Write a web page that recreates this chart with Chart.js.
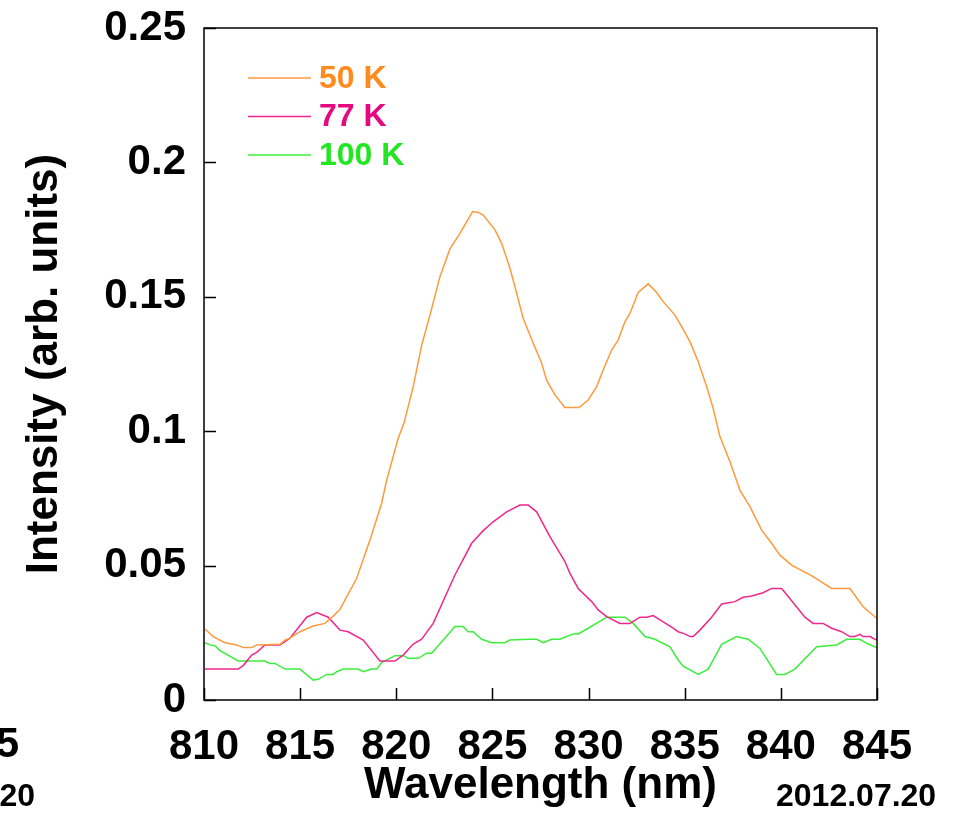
<!DOCTYPE html>
<html>
<head>
<meta charset="utf-8">
<title>PL spectra</title>
<script src="https://cdn.jsdelivr.net/npm/chart.js@4.4.1/dist/chart.umd.min.js"></script>
<style>
  html, body { margin: 0; padding: 0; background: #fff; }
  #wrap { position: relative; width: 962px; height: 814px; }
</style>
</head>
<body>
<div id="wrap"><canvas id="spectrumChart"></canvas></div>
<script>
// series: wavelength (nm) and intensity (arb. units)
const wl50 = [810.05, 810.48, 811.09, 811.70, 812.04, 812.48, 812.74, 813.95, 814.21, 814.47,
  814.99, 815.68, 816.29, 816.72, 817.07, 817.94, 818.63, 819.24, 819.50, 820.10,
  820.40, 820.88, 821.32, 821.75, 822.27, 822.79, 823.31, 823.97, 824.26, 824.52,
  825.13, 825.48, 825.91, 826.17, 826.60, 827.12, 827.56, 827.82, 828.25, 828.77,
  829.50, 829.98, 830.42, 830.76, 831.20, 831.54, 831.89, 832.15, 832.58, 833.10,
  833.54, 833.88, 834.49, 834.84, 835.27, 835.70, 836.14, 836.48, 836.83, 837.35,
  837.87, 838.39, 839.00, 839.52, 839.95, 840.56, 841.68, 842.64, 843.59, 844.28,
  844.98];
const int50 = [0.0264, 0.0236, 0.0213, 0.0205, 0.0195, 0.0195, 0.0205, 0.0207, 0.0223, 0.023,
  0.0254, 0.0275, 0.0285, 0.0312, 0.0337, 0.0453, 0.0595, 0.0732, 0.0818, 0.0974,
  0.103, 0.1166, 0.132, 0.1432, 0.1575, 0.1678, 0.1736, 0.1817, 0.1814, 0.1804,
  0.1749, 0.1699, 0.1606, 0.1538, 0.142, 0.1327, 0.1253, 0.119, 0.1135, 0.1088,
  0.1088, 0.1116, 0.1166, 0.1228, 0.1302, 0.1339, 0.1407, 0.1438, 0.1516, 0.1548,
  0.1516, 0.1482, 0.1432, 0.1389, 0.1333, 0.1259, 0.1166, 0.1085, 0.098, 0.0887,
  0.0781, 0.0719, 0.0632, 0.0583, 0.0539, 0.0502, 0.0459, 0.0415, 0.0415, 0.0347,
  0.0304];

const wl77 = [810.05, 811.78, 812.04, 812.48, 812.74, 813.17, 813.95, 814.47, 815.34, 815.86,
  816.46, 817.07, 817.50, 818.28, 819.15, 819.93, 820.36, 820.88, 821.32, 821.92,
  823.05, 823.92, 824.52, 825.04, 825.74, 826.43, 826.86, 827.30, 827.99, 828.77,
  829.03, 829.46, 830.16, 830.50, 830.94, 831.63, 832.15, 832.67, 833.02, 833.36,
  833.88, 834.40, 834.66, 835.01, 835.27, 835.44, 835.79, 836.40, 836.92, 837.61,
  838.04, 838.48, 839.08, 839.52, 840.04, 840.56, 841.25, 841.68, 842.20, 842.64,
  843.16, 843.59, 843.85, 844.11, 844.28, 844.63, 844.98];
const int77 = [0.0115, 0.0115, 0.0128, 0.0167, 0.0177, 0.0205, 0.0205, 0.023, 0.0308, 0.0325,
  0.0308, 0.026, 0.0254, 0.0223, 0.0145, 0.0145, 0.0167, 0.0208, 0.0226, 0.0285,
  0.0465, 0.0583, 0.063, 0.0663, 0.07, 0.0725, 0.0725, 0.07, 0.0608, 0.0515,
  0.0471, 0.0415, 0.0366, 0.0335, 0.031, 0.0285, 0.0285, 0.0308, 0.0308, 0.0314,
  0.0291, 0.0267, 0.0254, 0.0246, 0.0236, 0.0236, 0.026, 0.0308, 0.0357, 0.0366,
  0.0382, 0.0387, 0.0399, 0.0415, 0.0415, 0.0369, 0.0308, 0.0285, 0.0285, 0.0267,
  0.0254, 0.0236, 0.0236, 0.0244, 0.0236, 0.0236, 0.0223];

const wl100 = [810.05, 810.31, 810.57, 810.83, 811.78, 813.17, 813.43, 813.69, 814.21, 814.99,
  815.68, 815.94, 816.38, 816.72, 816.90, 817.24, 818.02, 818.28, 818.72, 818.98,
  819.24, 819.93, 820.36, 820.62, 821.14, 821.58, 821.84, 823.05, 823.48, 823.74,
  824.00, 824.44, 824.96, 825.65, 825.91, 826.95, 827.30, 827.64, 828.08, 828.51,
  828.86, 829.20, 829.46, 829.98, 830.94, 831.89, 832.32, 832.93, 833.45, 834.23,
  834.66, 834.92, 835.70, 836.22, 836.92, 837.70, 838.30, 838.91, 839.78, 840.21,
  840.73, 841.86, 842.90, 843.42, 844.11, 844.46, 844.98];
const int100 = [0.0213, 0.0205, 0.0202, 0.0184, 0.0145, 0.0145, 0.0136, 0.0136, 0.0115, 0.0115,
  0.0074, 0.0077, 0.0095, 0.0095, 0.0105, 0.0115, 0.0115, 0.0105, 0.0115, 0.0115,
  0.0139, 0.0165, 0.0165, 0.0155, 0.0155, 0.0174, 0.0174, 0.0273, 0.0273, 0.0254,
  0.0254, 0.0226, 0.0213, 0.0213, 0.0223, 0.0226, 0.0226, 0.0213, 0.0226, 0.0226,
  0.0236, 0.0246, 0.0246, 0.0267, 0.0308, 0.0308, 0.0285, 0.0236, 0.0226, 0.0198,
  0.0149, 0.0126, 0.0095, 0.0115, 0.0207, 0.0236, 0.0226, 0.0192, 0.0095, 0.0095,
  0.0115, 0.0198, 0.0205, 0.0226, 0.0226, 0.0211, 0.0195];

const seriesLabels = ["50 K", "77 K", "100 K"];
const xTickLabels = ["810", "815", "820", "825", "830", "835", "840", "845"];
const yTickLabels = ["0", "0.05", "0.1", "0.15", "0.2", "0.25"];

const FONT = "'Liberation Sans', Arial, Helvetica, sans-serif";
Chart.defaults.font.family = FONT;
Chart.defaults.color = "#000";

function pairs(xs, ys) {
  return xs.map((x, i) => ({ x: x, y: ys[i] }));
}

const lineColors = ["#ff9a3c", "#f0288c", "#3cee3c"];
const textColors = ["#ff8a1e", "#e6087e", "#22e622"];

// box, inward ticks, legend and the stray labels at the picture's edges
const frame = {
  id: "frame",
  afterDraw(chart) {
    const { ctx, chartArea: a, scales } = chart;
    ctx.save();
    ctx.strokeStyle = "#000";
    ctx.lineWidth = 1.5;
    ctx.strokeRect(a.left, a.top, a.right - a.left, a.bottom - a.top);

    ctx.beginPath();
    scales.x.ticks.forEach((t) => {
      const px = Math.round(scales.x.getPixelForValue(t.value)) + 0.5;
      ctx.moveTo(px, a.bottom);
      ctx.lineTo(px, a.bottom - 12);
    });
    scales.y.ticks.forEach((t) => {
      const py = Math.round(scales.y.getPixelForValue(t.value)) + 0.5;
      ctx.moveTo(a.left, py);
      ctx.lineTo(a.left + 12, py);
    });
    ctx.stroke();

    // legend
    ctx.font = "bold 32px " + FONT;
    ctx.textBaseline = "middle";
    ctx.textAlign = "left";
    chart.data.datasets.forEach((ds, i) => {
      const y = a.top + 50 + i * 38.5;
      ctx.strokeStyle = ds.borderColor;
      ctx.lineWidth = 1.5;
      ctx.beginPath();
      ctx.moveTo(a.left + 44, y);
      ctx.lineTo(a.left + 107, y);
      ctx.stroke();
      ctx.fillStyle = textColors[i];
      ctx.fillText(ds.label, a.left + 115, y + 1);
    });

    ctx.fillStyle = "#000";
    ctx.font = "bold 32px " + FONT;
    ctx.fillText("2012.07.20", 776, 797);
    ctx.textAlign = "right";
    ctx.fillText("2012.07.20", 35, 797);
    ctx.font = "bold 42px " + FONT;
    ctx.fillText("845", 19, 745);
    ctx.restore();
  },
};

const ctx = document.getElementById("spectrumChart").getContext("2d");
const spectrumChart = new Chart(ctx, {
  type: "line",
  data: {
    datasets: [
      { label: seriesLabels[0], data: pairs(wl50, int50), borderColor: lineColors[0] },
      { label: seriesLabels[1], data: pairs(wl77, int77), borderColor: lineColors[1] },
      { label: seriesLabels[2], data: pairs(wl100, int100), borderColor: lineColors[2] },
    ],
  },
  options: {
    responsive: true,
    maintainAspectRatio: false,
    animation: false,
    layout: { padding: { top: 28, right: 85, left: 0, bottom: 0 } },
    elements: {
      line: { borderWidth: 1.5, tension: 0, fill: false },
      point: { radius: 0 },
    },
    scales: {
      x: {
        type: "linear",
        min: 810,
        max: 845,
        border: { display: false },
        grid: { display: false },
        ticks: {
          stepSize: 5,
          padding: 14,
          maxRotation: 0,
          font: { size: 42, weight: "bold" },
          callback: (v, i) => xTickLabels[i],
        },
        title: {
          display: true,
          text: "Wavelength (nm)",
          font: { size: 44, weight: "bold" },
          padding: { top: 0, bottom: 2 },
        },
        afterFit: (scale) => {
          scale.height = 114;
          scale.paddingLeft = 0;
          scale.paddingRight = 0;
        },
      },
      y: {
        min: 0,
        max: 0.25,
        border: { display: false },
        grid: { display: false },
        ticks: {
          stepSize: 0.05,
          padding: 10,
          font: { size: 42, weight: "bold" },
          callback: (v, i) => yTickLabels[i],
        },
        title: {
          display: true,
          text: "Intensity (arb. units)",
          font: { size: 44, weight: "bold" },
          padding: { top: 18, bottom: 0 },
        },
        afterFit: (scale) => {
          scale.width = 204;
          scale.paddingTop = 0;
          scale.paddingBottom = 0;
        },
      },
    },
    plugins: {
      legend: { display: false },
      tooltip: { enabled: false },
    },
  },
  plugins: [frame],
});
</script>
</body>
</html>
